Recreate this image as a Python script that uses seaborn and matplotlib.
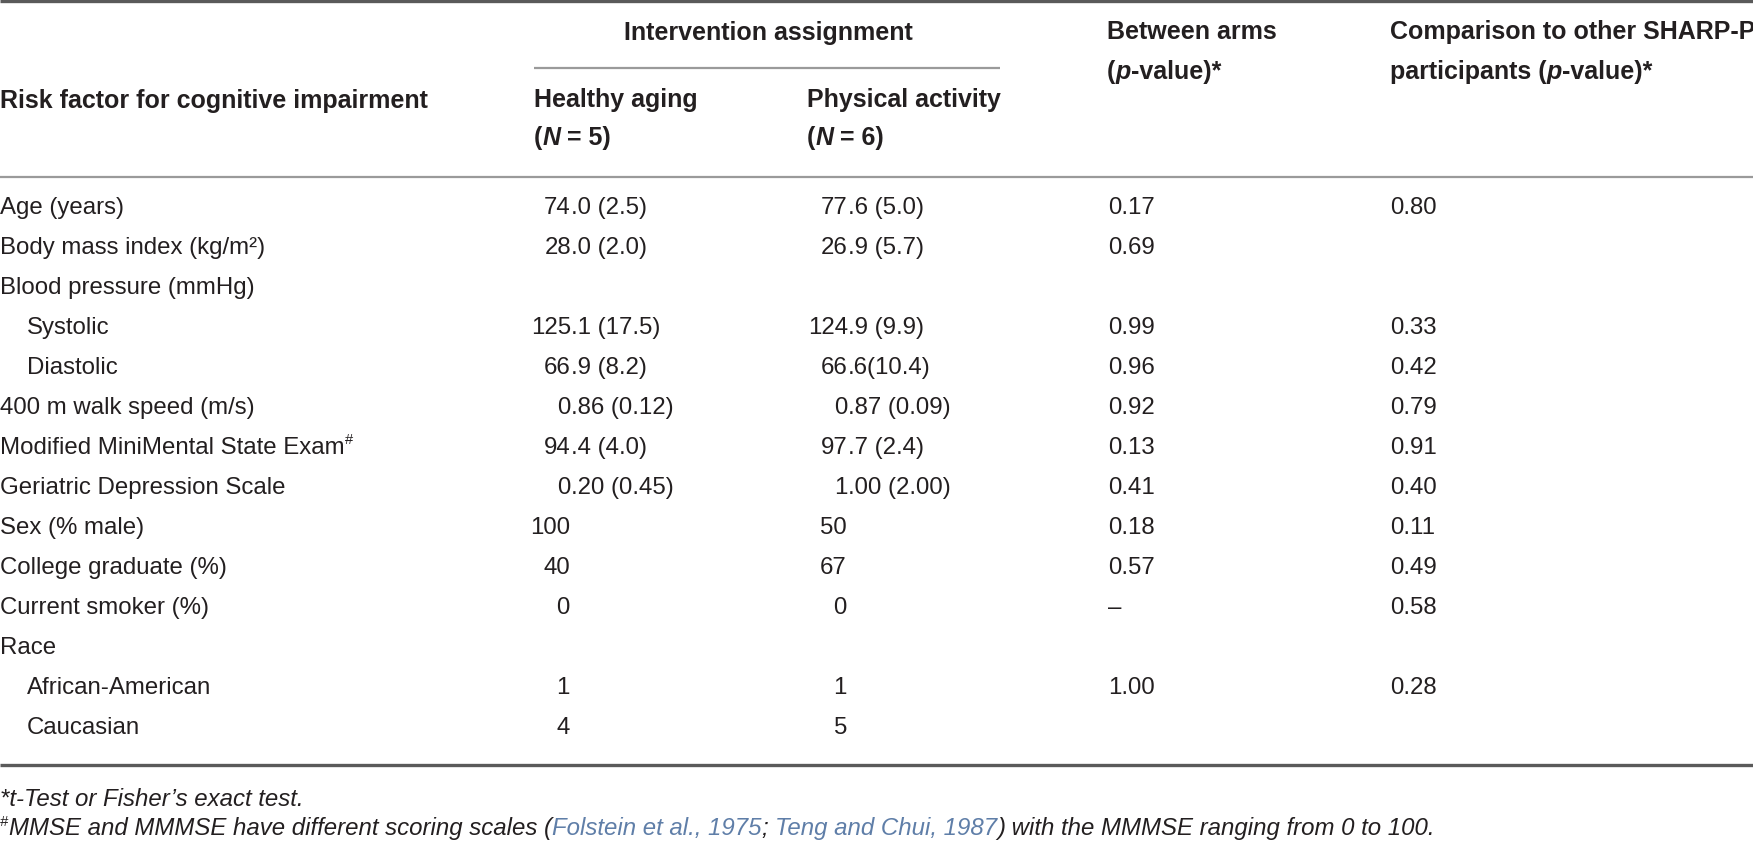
import matplotlib
matplotlib.use("Agg")
import matplotlib.pyplot as plt
import seaborn as sns

# --- dados da tabela ---
fatores = ['Age (years)', 'Body mass index (kg/m\u00b2)', 'Blood pressure (mmHg)',
           'Systolic', 'Diastolic', '400 m walk speed (m/s)',
           'Modified MiniMental State Exam#', 'Geriatric Depression Scale',
           'Sex (% male)', 'College graduate (%)', 'Current smoker (%)', 'Race',
           'African-American', 'Caucasian']
recuo = [False, False, False, True, True, False, False, False, False, False, False, False, True, True]
healthy_aging = ['74.0 (2.5)', '28.0 (2.0)', '', '125.1 (17.5)', '66.9 (8.2)', '0.86 (0.12)',
                 '94.4 (4.0)', '0.20 (0.45)', '100', '40', '0', '', '1', '4']
physical_activity = ['77.6 (5.0)', '26.9 (5.7)', '', '124.9 (9.9)', '66.6(10.4)', '0.87 (0.09)',
                     '97.7 (2.4)', '1.00 (2.00)', '50', '67', '0', '', '1', '5']
p_between = ['0.17', '0.69', '', '0.99', '0.96', '0.92', '0.13', '0.41', '0.18', '0.57',
             '\u2013', '', '1.00', '']
p_others = ['0.80', '', '', '0.33', '0.42', '0.79', '0.91', '0.40', '0.11', '0.49',
            '0.58', '', '0.28', '']

sns.set_theme(style='white')
plt.rcParams['font.family'] = ['Liberation Sans', 'DejaVu Sans']

TXT = '#231f20'
LINK = '#5f7ea8'
FS = 17.3
FS_B = 18

fig = plt.figure(figsize=(17.53, 8.45), dpi=100)
ax = fig.add_axes([0, 0, 1, 1])
ax.set_xlim(0, 1753)
ax.set_ylim(845, 0)
ax.axis('off')


def rico(x, y, partes):
    """Escreve pedaços de texto em sequência (negrito/itálico/sobrescrito)."""
    base = None
    prev = None
    for texto, props in partes:
        props = dict(props)
        sup = props.pop('sup', False)
        props.setdefault('color', TXT)
        if base is None:
            prev = ax.text(x, y, texto, ha='left', va='center', **props)
            base = prev
        else:
            prev = ax.annotate(texto, xy=(1, 0.85 if sup else 0.5), xycoords=(prev, base),
                               ha='left', va='center', **props)
    return prev


# --- linhas horizontais ---
ax.hlines(1.5, 0, 1753, color='#5a5a5a', lw=2.4)
ax.hlines(69, 534, 1000, color='#9a9a9a', lw=1.6)
ax.hlines(178, 0, 1753, color='#9a9a9a', lw=1.6)
ax.hlines(766, 0, 1753, color='#5a5a5a', lw=2.4)

# --- cabeçalho ---
B = {'fontsize': FS_B, 'fontweight': 'bold'}
BI = {'fontsize': FS_B, 'fontweight': 'bold', 'fontstyle': 'italic'}
ax.text(768, 33, 'Intervention assignment', ha='center', va='center', color=TXT, **B)
ax.text(0, 101, 'Risk factor for cognitive impairment', ha='left', va='center', color=TXT, **B)
ax.text(534, 100, 'Healthy aging', ha='left', va='center', color=TXT, **B)
rico(534, 138, [('(', B), ('N', BI), (' = 5)', B)])
ax.text(807, 100, 'Physical activity', ha='left', va='center', color=TXT, **B)
rico(807, 138, [('(', B), ('N', BI), (' = 6)', B)])
ax.text(1107, 32, 'Between arms', ha='left', va='center', color=TXT, **B)
rico(1107, 72, [('(', B), ('p', BI), ('-value)*', B)])
ax.text(1390, 32, 'Comparison to other SHARP-P', ha='left', va='center', color=TXT, **B)
rico(1390, 72, [('participants (', B), ('p', BI), ('-value)*', B)])

# --- corpo ---
R = {'fontsize': FS}
y0, passo = 208, 40
x_dec = [571, 848]


def numero(xd, y, valor):
    if not valor:
        return
    if '.' in valor:
        inteiro, resto = valor.split('.', 1)
        ax.text(xd, y, inteiro, ha='right', va='center', color=TXT, **R)
        ax.text(xd, y, '.' + resto, ha='left', va='center', color=TXT, **R)
    else:
        ax.text(xd - 1, y, valor, ha='right', va='center', color=TXT, **R)


for i, fator in enumerate(fatores):
    y = y0 + i * passo
    x = 27 if recuo[i] else 0
    if fator.endswith('#'):
        rico(x, y, [(fator[:-1], R), ('#', {'fontsize': 10.5, 'sup': True})])
    else:
        ax.text(x, y, fator, ha='left', va='center', color=TXT, **R)
    numero(x_dec[0], y, healthy_aging[i])
    numero(x_dec[1], y, physical_activity[i])
    ax.text(1108, y, p_between[i], ha='left', va='center', color=TXT, **R)
    ax.text(1390, y, p_others[i], ha='left', va='center', color=TXT, **R)

# --- notas de rodapé ---
I = {'fontsize': FS, 'fontstyle': 'italic'}
IL = {'fontsize': FS, 'fontstyle': 'italic', 'color': LINK}
ax.text(0, 800, '*t-Test or Fisher\u2019s exact test.', ha='left', va='center', color=TXT, **I)
ax.text(0, 822, '#', ha='left', va='center', color=TXT, fontsize=10.5, fontstyle='italic')
rico(9, 829, [('MMSE and MMMSE have different scoring scales (', I),
              ('Folstein et al., 1975', IL), ('; ', I),
              ('Teng and Chui, 1987', IL),
              (') with the MMMSE ranging from 0 to 100.', I)])

plt.savefig('out.png', dpi=100)
